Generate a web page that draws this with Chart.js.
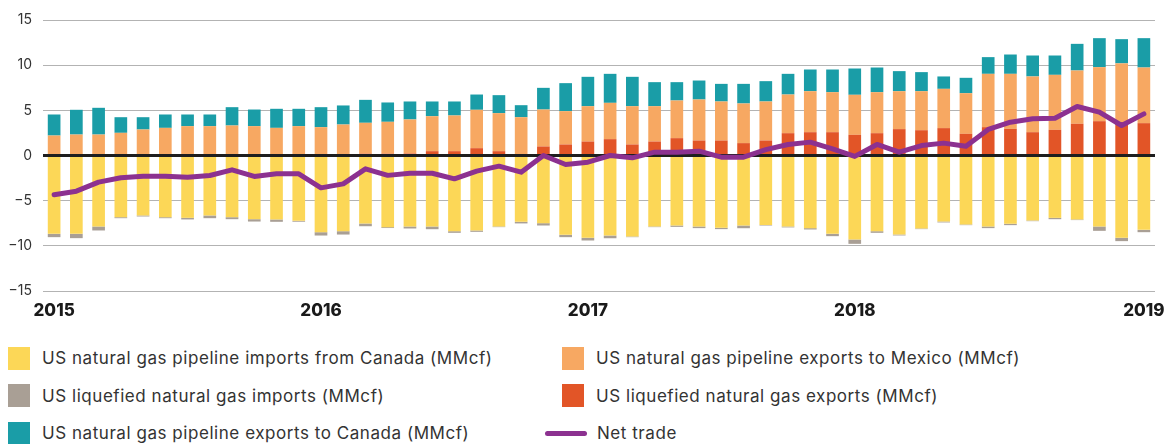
<!DOCTYPE html>
<html>
<head>
<meta charset="utf-8">
<script src="https://cdn.jsdelivr.net/npm/chart.js@4/dist/chart.umd.min.js"></script>
<style>
  html, body { margin: 0; padding: 0; background: #fff; }
  body { width: 1176px; height: 444px; position: relative; overflow: hidden; font-family: Inter, "Noto Sans", sans-serif; }
  #wrap { position: absolute; left: 0; top: 0; width: 1176px; height: 330px; }
  #legend { position: absolute; left: 0; top: 346px; width: 1176px; }
  .item { position: absolute; height: 24px; display: flex; align-items: center; font-size: 17px; letter-spacing: 0.55px; color: #333; white-space: nowrap; }
  .box { width: 22px; height: 23px; margin-right: 12px; }
  .line { width: 42px; height: 5px; border-radius: 3px; margin-right: 10px; }
</style>
</head>
<body>
<div id="wrap"><canvas id="tradeChart"></canvas></div>
<div id="legend"></div>
<script>
// monthly, Jan 2015 .. Feb 2019
const yearTicks = { 0: '2015', 12: '2016', 24: '2017', 36: '2018', 49: '2019' };

const pipelineImportsCanada = [-8.67, -8.67, -7.86, -6.83, -6.64, -6.83, -6.9, -6.64, -6.83, -7.05, -7.08, -7.23,
  -8.49, -8.38, -7.53, -7.93, -7.86, -7.86, -8.38, -8.3, -7.86, -7.34, -7.49, -8.78,
  -9.11, -8.86, -8.97, -7.86, -7.75, -7.86, -8.0, -7.75, -7.68, -7.86, -8.04, -8.67,
  -9.3, -8.38, -8.75, -8.08, -7.31, -7.64, -7.86, -7.56, -7.2, -6.9, -7.08, -7.86, -9.11, -8.23];

const lngImports = [-0.37, -0.48, -0.44, -0.11, -0.11, -0.11, -0.18, -0.3, -0.22, -0.26, -0.26, -0.1,
  -0.37, -0.37, -0.3, -0.1, -0.22, -0.3, -0.18, -0.15, -0.07, -0.18, -0.26, -0.26,
  -0.3, -0.3, -0.07, -0.07, -0.15, -0.18, -0.15, -0.3, -0.07, -0.1, -0.15, -0.26,
  -0.48, -0.18, -0.1, -0.07, -0.1, -0.07, -0.18, -0.15, -0.07, -0.15, -0.07, -0.48, -0.37, -0.26];

const lngExports = [0, 0, 0, 0, 0, 0, 0, 0, 0, 0, 0, 0,
  0, 0, 0.2, 0.2, 0.22, 0.48, 0.48, 0.81, 0.48, 0, 1.0, 1.22,
  1.55, 1.81, 1.22, 1.55, 1.92, 1.66, 1.66, 1.37, 1.66, 2.47, 2.58, 2.58,
  2.29, 2.47, 2.92, 2.8, 3.03, 2.4, 3.14, 2.95, 2.58, 2.84, 3.51, 3.8, 3.7, 3.58];

const pipelineExportsMexico = [2.21, 2.32, 2.32, 2.51, 2.88, 3.06, 3.25, 3.25, 3.32, 3.25, 3.06, 3.25,
  3.14, 3.43, 3.42, 3.53, 3.77, 3.87, 3.95, 4.25, 4.21, 4.24, 4.09, 3.69,
  3.91, 4.02, 4.24, 3.91, 4.17, 4.54, 4.32, 4.39, 4.32, 4.28, 4.54, 4.43,
  4.43, 4.54, 4.2, 4.32, 4.35, 4.5, 5.9, 6.09, 6.17, 6.09, 5.9, 5.98, 6.5, 6.16];

const pipelineExportsCanada = [2.33, 2.74, 2.96, 1.73, 1.36, 1.48, 1.29, 1.29, 2.03, 1.84, 2.11, 1.92,
  2.21, 2.11, 2.54, 2.14, 1.99, 1.63, 1.55, 1.69, 1.99, 1.33, 2.4, 3.1,
  3.25, 3.21, 3.25, 2.66, 2.03, 2.1, 1.95, 2.17, 2.25, 2.29, 2.4, 2.51,
  2.91, 2.73, 2.22, 2.11, 1.37, 1.7, 1.85, 2.14, 2.32, 2.14, 2.95, 3.21, 2.68, 3.25];

const netTrade = [-4.35, -3.95, -2.95, -2.47, -2.29, -2.29, -2.4, -2.21, -1.59, -2.32, -2.03, -2.03,
  -3.58, -3.14, -1.48, -2.2, -1.96, -1.96, -2.58, -1.73, -1.18, -1.85, 0, -1.0,
  -0.74, 0, -0.26, 0.37, 0.37, 0.48, -0.18, -0.18, 0.65, 1.22, 1.48, 0.74,
  -0.1, 1.22, 0.37, 1.1, 1.37, 1.03, 2.88, 3.69, 4.06, 4.13, 5.42, 4.8, 3.32, 4.61];

const months = [];
for (let i = 0; i < netTrade.length; i++) {
  months.push((2015 + Math.floor(i / 12)) + '-' + String(i % 12 + 1).padStart(2, '0'));
}

const colors = {
  importsCanada: '#fcd757',
  lngImports: '#a99f95',
  lngExports: '#e25527',
  exportsMexico: '#f7a862',
  exportsCanada: '#1a9da7',
  net: '#8c3190'
};

function bar(label, data, color) {
  return {
    type: 'bar', label: label, data: data, backgroundColor: color,
    stack: 'trade', order: 1, barPercentage: 0.57, categoryPercentage: 1
  };
}

// zero line goes over the bars but under the net trade line
const zeroLine = {
  id: 'zeroLine',
  beforeDatasetDraw(chart, args) {
    if (chart.data.datasets[args.index].type !== 'line') return;
    const y = chart.scales.y.getPixelForValue(0);
    const ctx = chart.ctx;
    ctx.save();
    ctx.strokeStyle = '#1e1e1e';
    ctx.lineWidth = 3;
    ctx.beginPath();
    ctx.moveTo(chart.chartArea.left, y);
    ctx.lineTo(chart.chartArea.right, y);
    ctx.stroke();
    ctx.restore();
  }
};

const chart = new Chart(document.getElementById('tradeChart'), {
  data: {
    labels: months,
    datasets: [
      bar('US natural gas pipeline imports from Canada (MMcf)', pipelineImportsCanada, colors.importsCanada),
      bar('US liquefied natural gas imports (MMcf)', lngImports, colors.lngImports),
      bar('US liquefied natural gas exports (MMcf)', lngExports, colors.lngExports),
      bar('US natural gas pipeline exports to Mexico (MMcf)', pipelineExportsMexico, colors.exportsMexico),
      bar('US natural gas pipeline exports to Canada (MMcf)', pipelineExportsCanada, colors.exportsCanada),
      {
        type: 'line', label: 'Net trade', data: netTrade, order: 0,
        borderColor: colors.net, borderWidth: 5, pointRadius: 0, tension: 0,
        borderJoinStyle: 'round', borderCapStyle: 'round', fill: false
      }
    ]
  },
  options: {
    responsive: true,
    maintainAspectRatio: false,
    animation: false,
    layout: { padding: { top: 20, right: 21, left: 0, bottom: 0 } },
    plugins: { legend: { display: false }, tooltip: { enabled: false } },
    scales: {
      x: {
        stacked: true,
        offset: true,
        grid: { display: false, drawTicks: false },
        border: { display: false },
        ticks: {
          autoSkip: false, maxRotation: 0, padding: 10,
          color: '#1a1a1a',
          font: { family: 'Inter', size: 17, weight: '800' },
          callback: (v, i) => yearTicks[i] || ''
        },
        afterFit: s => { s.height = 39; }
      },
      y: {
        stacked: true,
        min: -15, max: 15,
        grid: {
          drawTicks: false,
          color: ctx => ctx.tick && ctx.tick.value === 0 ? 'rgba(0,0,0,0)' : '#b3b3b3',
          lineWidth: 1
        },
        border: { display: false },
        ticks: {
          stepSize: 5, padding: 11, color: '#333',
          font: { family: 'Inter', size: 14 },
          callback: v => v < 0 ? '\u2212' + Math.abs(v) : v
        },
        afterFit: s => { s.width = 43; }
      }
    }
  },
  plugins: [zeroLine]
});

// two-column legend, row by row
const legendOrder = [0, 3, 1, 2, 4, 5];
const legend = document.getElementById('legend');
legendOrder.forEach((di, k) => {
  const ds = chart.data.datasets[di];
  const col = k % 2, row = Math.floor(k / 2);
  const item = document.createElement('div');
  item.className = 'item';
  const isLine = ds.type === 'line';
  item.style.left = (col === 0 ? 8 : (isLine ? 545 : 562)) + 'px';
  item.style.top = (row * 37.5) + 'px';
  const mark = document.createElement('span');
  mark.className = isLine ? 'line' : 'box';
  mark.style.background = isLine ? ds.borderColor : ds.backgroundColor;
  item.appendChild(mark);
  item.appendChild(document.createTextNode(ds.label));
  legend.appendChild(item);
});
</script>
</body>
</html>
